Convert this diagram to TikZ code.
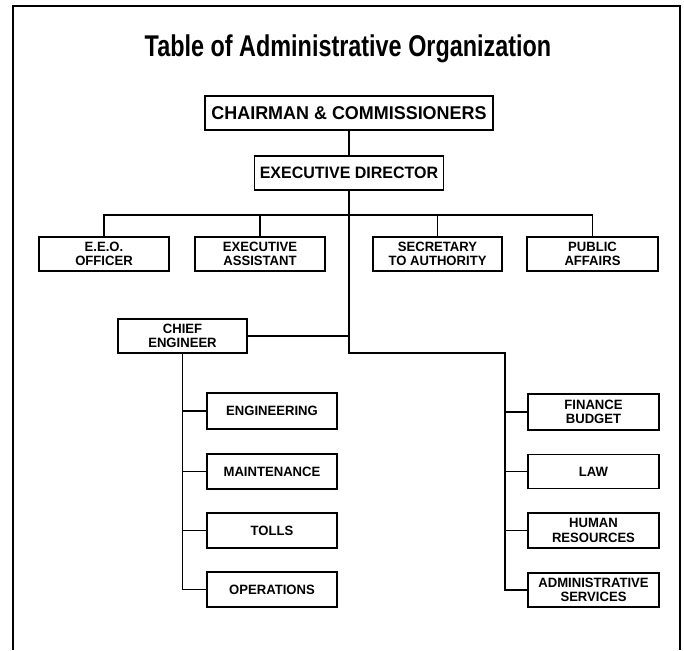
\documentclass[tikz,border=0pt]{standalone}
\usepackage{fontspec}
\newfontfamily\orgfont[FakeStretch=0.97]{Liberation Sans}
\newfontfamily\headfont[FakeStretch=0.78]{Liberation Sans}
\tikzset{
  unit/.style={draw, line width=1.4pt, minimum height=34pt, inner sep=1pt,
    align=center, font=\orgfont\bfseries\fontsize{13.5}{14.5}\selectfont},
  link/.style={line width=1.2pt}
}
\begin{document}
\begin{tikzpicture}[x=1pt, y=-1pt]
      \useasboundingbox (0,0) rectangle (684,650);
      \draw[line width=1.8pt] (13,650) -- (13,6) -- (680,6) -- (680,650);
      \node (title) at (348,49)
        {\headfont\bfseries\fontsize{30}{32}\selectfont Table of Administrative Organization};
      \node[unit, minimum width=288pt, font=\orgfont\bfseries\fontsize{18.5}{19}\selectfont]
        (chair) at (349,113) {CHAIRMAN \& COMMISSIONERS};
      \node[unit, minimum width=189pt, font=\orgfont\bfseries\fontsize{16.5}{17}\selectfont]
        (exec) at (349,173) {EXECUTIVE DIRECTOR};
      \node[unit, minimum width=130pt] (eeo) at (104,254) {E.E.O.\\OFFICER};
      \node[unit, minimum width=130pt] (asst) at (260,254) {EXECUTIVE\\ASSISTANT};
      \node[unit, minimum width=129pt] (sec) at (437.5,254) {SECRETARY\\TO AUTHORITY};
      \node[unit, minimum width=131pt] (pub) at (592.5,254) {PUBLIC\\AFFAIRS};
      \node[unit, minimum width=129pt] (chief) at (182.5,336) {CHIEF\\ENGINEER};
      \node[unit, minimum width=130pt, minimum height=36pt] (eng) at (272,411) {ENGINEERING};
      \node[unit, minimum width=130pt, minimum height=35pt] (maint) at (272,471.5) {MAINTENANCE};
      \node[unit, minimum width=130pt, minimum height=35pt] (tolls) at (272,530.5) {TOLLS};
      \node[unit, minimum width=130pt, minimum height=35pt] (ops) at (272,589.5) {OPERATIONS};
      \node[unit, minimum width=131pt, minimum height=36pt] (fin) at (593.5,412) {FINANCE\\BUDGET};
      \node[unit, minimum width=131pt, minimum height=34pt] (law) at (593.5,471.5) {LAW};
      \node[unit, minimum width=131pt, minimum height=35pt] (hr) at (593.5,530.5) {HUMAN\\RESOURCES};
      \node[unit, minimum width=131pt, minimum height=34pt] (admin) at (593.5,590) {ADMINISTRATIVE\\SERVICES};
      \coordinate (bus) at (349,215);
      \coordinate (split) at (349,353);
      \coordinate (rbus) at (505,353);
      \begin{scope}[link]
        \draw (chair) -- (exec);
        \draw (eeo.north) |- (bus) -| (pub.north);
        \draw (asst.north) -- (asst.north |- bus);
        \draw (sec.north) -- (sec.north |- bus);
        \draw (exec.south) -- (split) -- (rbus) |- (admin.west);
        \draw (chief.east) -- (chief.east -| split);
        \draw (rbus |- fin.west) -- (fin.west);
        \draw (rbus |- law.west) -- (law.west);
        \draw (rbus |- hr.west) -- (hr.west);
        \draw (chief.south) |- (ops.west);
        \draw (chief.south |- eng.west) -- (eng.west);
        \draw (chief.south |- maint.west) -- (maint.west);
        \draw (chief.south |- tolls.west) -- (tolls.west);
      \end{scope}
    \end{tikzpicture}
\end{document}
